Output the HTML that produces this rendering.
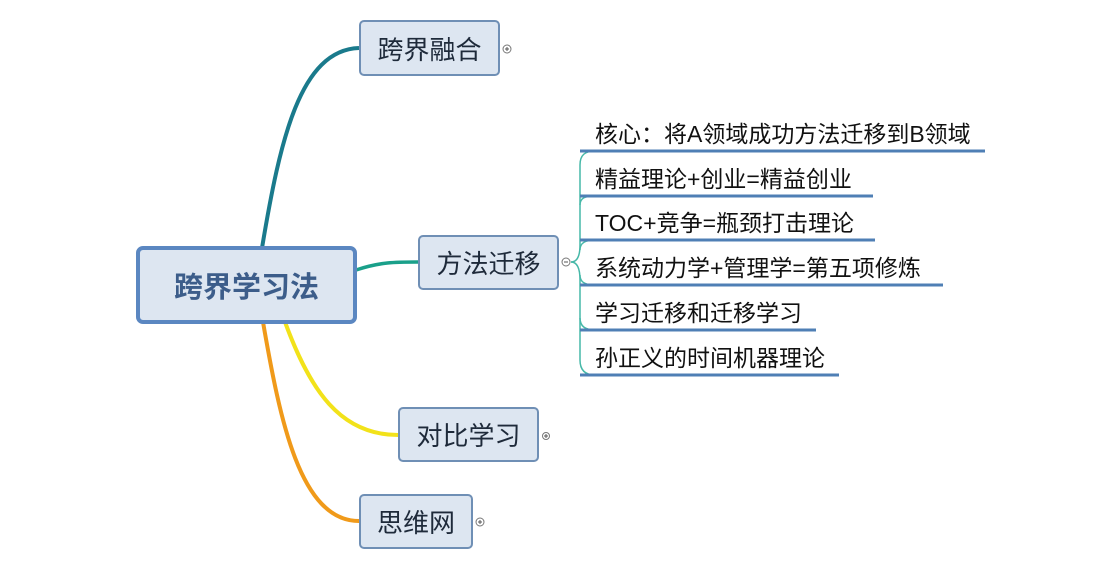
<!DOCTYPE html>
<html><head><meta charset="utf-8"><style>
body{margin:0;background:#fff;width:1105px;height:566px;overflow:hidden;position:relative;font-family:"Liberation Sans","Noto Sans CJK SC",sans-serif}
.b{position:absolute;box-sizing:border-box;background:#dde6f1;border:2px solid #6f8fb5;border-radius:5px;display:flex;align-items:center;justify-content:center;font-size:26px;color:#1e2a3a}
.c{border:4px solid #5b87c1;border-radius:7px;font-size:29px;font-weight:bold;color:#3c5d8a}
.t{position:absolute;left:595px;font-size:23px;color:#111;white-space:nowrap}
svg{position:absolute;left:0;top:0}
</style></head><body>
<svg width="1105" height="566">
<path d="M262,248 C280,140 300,50 359,48" stroke="#1a7a8c" stroke-width="4" fill="none"/>
<path d="M356,270 C380,262 395,262 418,262" stroke="#1aa08a" stroke-width="3.5" fill="none"/>
<path d="M285,322 C310,390 340,435 398,435" stroke="#f2e21a" stroke-width="4" fill="none"/>
<path d="M263,322 C280,420 300,521 359,521" stroke="#f09a1a" stroke-width="4" fill="none"/>
<g stroke="#46b8a8" stroke-width="1.5" fill="none">
<path d="M571,262 C578,262 580,255 580,245 L580,165 C580,155 585,151 595,151"/>
<path d="M580,205 C580,198 585,196 595,196"/>
<path d="M580,250 C580,243 585,240 595,240"/>
<path d="M580,275 C580,280 582,285 595,285"/>
<path d="M571,262 C578,262 580,270 580,280 L580,360 C580,370 585,375 595,375"/>
<path d="M580,318 C580,326 585,330 595,330"/>
</g>
<g stroke="#4f7fb5" stroke-width="3">
<line x1="580" y1="151" x2="985" y2="151"/>
<line x1="580" y1="196" x2="873" y2="196"/>
<line x1="580" y1="240" x2="875" y2="240"/>
<line x1="580" y1="285" x2="943" y2="285"/>
<line x1="580" y1="330" x2="816" y2="330"/>
<line x1="580" y1="375" x2="839" y2="375"/>
</g>
<g fill="#fff" stroke="#777" stroke-width="1">
<circle cx="507" cy="49" r="4"/><circle cx="566" cy="262" r="4"/><circle cx="546" cy="436" r="3.5"/><circle cx="480" cy="522" r="4"/>
</g>
<g stroke="#555" stroke-width="1">
<line x1="505" y1="49" x2="509" y2="49"/><line x1="507" y1="47" x2="507" y2="51"/>
<line x1="564" y1="262" x2="568" y2="262"/>
<line x1="544" y1="436" x2="548" y2="436"/><line x1="546" y1="434" x2="546" y2="438"/>
<line x1="478" y1="522" x2="482" y2="522"/><line x1="480" y1="520" x2="480" y2="524"/>
</g>
</svg>
<div class="b c" style="left:136px;top:246px;width:221px;height:78px">跨界学习法</div>
<div class="b" style="left:359px;top:20px;width:141px;height:56px">跨界融合</div>
<div class="b" style="left:418px;top:235px;width:141px;height:55px">方法迁移</div>
<div class="b" style="left:398px;top:407px;width:141px;height:55px">对比学习</div>
<div class="b" style="left:359px;top:494px;width:114px;height:55px">思维网</div>
<div class="t" style="top:115px">核心：将A领域成功方法迁移到B领域</div>
<div class="t" style="top:160px">精益理论+创业=精益创业</div>
<div class="t" style="top:204px">TOC+竞争=瓶颈打击理论</div>
<div class="t" style="top:249px">系统动力学+管理学=第五项修炼</div>
<div class="t" style="top:294px">学习迁移和迁移学习</div>
<div class="t" style="top:339px">孙正义的时间机器理论</div>
</body></html>
